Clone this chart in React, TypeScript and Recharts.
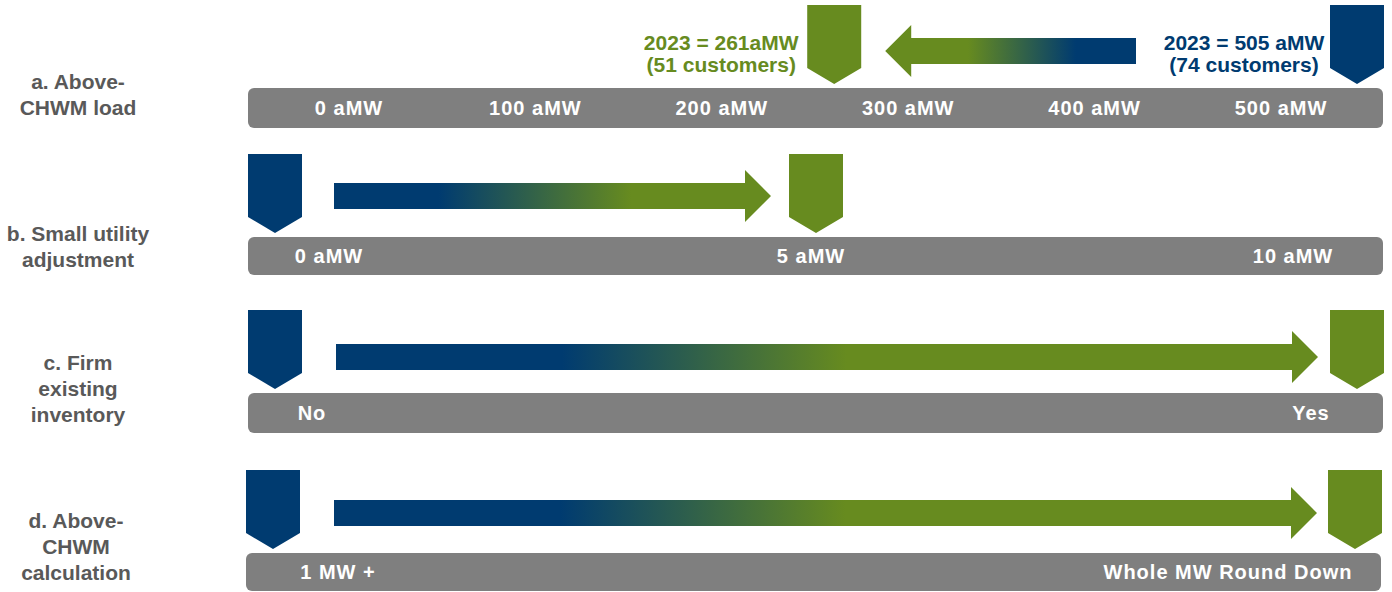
import { ComposedChart, XAxis, YAxis, Scatter, ReferenceArea } from "recharts"

const rowTitles = [
  "a. Above-\nCHWM load",
  "b. Small utility\nadjustment",
  "c. Firm\nexisting\ninventory",
  "d. Above-\nCHWM\ncalculation",
]
const fromValues = [505, 0, 0, 0]
const toValues = [261, 5, 1, 1]
const tickValues = [[0, 100, 200, 300, 400, 500], [0, 5, 10], [0, 1], [0, 1]]
const tickLabels = [
  ["0 aMW", "100 aMW", "200 aMW", "300 aMW", "400 aMW", "500 aMW"],
  ["0 aMW", "5 aMW", "10 aMW"],
  ["No", "Yes"],
  ["1 MW +", "Whole MW Round Down"],
]
const fromNotes = [["2023 = 505 aMW", "(74 customers)"], [], [], []]
const toNotes = [["2023 = 261aMW", "(51 customers)"], [], [], []]

const BLUE = "#003b70"
const GREEN = "#678b1f"
const GRAY = "#7f7f7f"
const TITLE = "#595959"
const FONT = "'Liberation Sans', Arial, sans-serif"

// per-row layout (pixels)
const layout = [
  { top: 0, left: 0, height: 140, mTop: 88, mBottom: 12, titleDrop: 13, lblPad: { left: 101, right: 102 }, fromGap: 221, toGap: 51, lift: 37, stops: [0.24, 0.67] },
  { top: 140, left: 0, height: 150, mTop: 97, mBottom: 15, titleDrop: 8, lblPad: { left: 81, right: 90 }, fromGap: 59, toGap: 45, lift: 41, stops: [0.24, 0.68] },
  { top: 290, left: 0, height: 155, mTop: 103, mBottom: 12, titleDrop: 11, lblPad: { left: 64, right: 72 }, fromGap: 61, toGap: 39, lift: 36, stops: [0.23, 0.52] },
  { top: 445, left: -2, height: 147, mTop: 108, mBottom: 1, titleDrop: 11, lblPad: { left: 92, right: 153 }, fromGap: 61, toGap: 38, lift: 40, stops: [0.23, 0.52] },
]

const MW = 27 // half marker width

function markerShape(color: string, barTop: number) {
  return (props: any) => {
    const { cx, payload } = props
    const top = barTop - 4 - 79
    const l = cx - MW
    const r = cx + MW
    return (
      <g>
        <polygon points={`${l},${top} ${r},${top} ${r},${top + 63} ${cx},${top + 79} ${l},${top + 63}`} fill={color} />
        {(payload.note || []).map((t: string, i: number) => (
          <text key={i} x={cx - 113} y={barTop - 38 + i * 22} textAnchor="middle" fill={color}
            fontSize={21} fontWeight="bold" fontFamily={FONT}>{t}</text>
        ))}
      </g>
    )
  }
}

function Row({ i }: { i: number }) {
  const L = layout[i]
  const barH = L.height - L.mTop - L.mBottom
  const from = fromValues[i]
  const to = toValues[i]
  const ticks = tickValues[i]
  const vMax = Math.max(ticks[ticks.length - 1], from, to)
  const title = rowTitles[i]
  const fromData = [{ row: title, value: from, note: fromNotes[i] }]
  const toData = [{ row: title, value: to, note: toNotes[i] }]
  const dir = to > from ? 1 : -1
  const gid = `arrowGrad${i}`

  const arrow = (p: any) => {
    const { x, width } = p
    const xFrom = dir > 0 ? x : x + width
    const xTo = dir > 0 ? x + width : x
    const s = xFrom + dir * L.fromGap
    const tip = xTo - dir * L.toGap
    const base = tip - dir * 26
    const cy = L.mTop - L.lift
    return (
      <g>
        <defs>
          <linearGradient id={gid} x1={dir > 0 ? 0 : 1} x2={dir > 0 ? 1 : 0} y1={0} y2={0}>
            <stop offset={0} stopColor={BLUE} />
            <stop offset={L.stops[0]} stopColor={BLUE} />
            <stop offset={L.stops[1]} stopColor={GREEN} />
            <stop offset={1} stopColor={GREEN} />
          </linearGradient>
        </defs>
        <polygon
          points={`${s},${cy - 13} ${base},${cy - 13} ${base},${cy - 26} ${tip},${cy} ${base},${cy + 26} ${base},${cy + 13} ${s},${cy + 13}`}
          fill={`url(#${gid})`}
        />
      </g>
    )
  }

  const renderTick = (p: any) => {
    const idx = ticks.indexOf(p.payload.value)
    return (
      <text x={p.x} y={L.mTop + barH / 2 + 7} textAnchor="middle" fill="#ffffff" fontSize={20}
        fontWeight="bold" letterSpacing={1} fontFamily={FONT}>{tickLabels[i][idx]}</text>
    )
  }

  const renderTitle = (p: any) => {
    const lines = String(p.payload.value).split("\n")
    const last = L.height - L.mBottom - L.titleDrop
    return (
      <g>
        {lines.map((t, k) => (
          <text key={k} x={78} y={last - (lines.length - 1 - k) * 26} textAnchor="middle" fill={TITLE}
            fontSize={21} fontWeight="bold" fontFamily={FONT}>{t}</text>
        ))}
      </g>
    )
  }

  return (
    <div style={{ position: "absolute", top: L.top, left: L.left }}>
      <ComposedChart width={1392} height={L.height} data={[...fromData, ...toData]}
        margin={{ top: L.mTop, right: 9, bottom: L.mBottom, left: 0 }}>
        <XAxis xAxisId="bar" type="number" dataKey="value" domain={[0, 1]} allowDataOverflow hide />
        <XAxis xAxisId="v" type="number" dataKey="value" domain={[0, vMax]} padding={{ left: MW, right: MW - 1 }} hide />
        <XAxis xAxisId="t" type="number" dataKey="value" domain={[ticks[0], ticks[ticks.length - 1]]} allowDataOverflow
          ticks={ticks} interval={0} padding={L.lblPad} axisLine={false} tickLine={false} mirror tick={renderTick} />
        <YAxis type="category" dataKey="row" width={248} axisLine={false} tickLine={false} tick={renderTitle} />
        <ReferenceArea xAxisId="bar" x1={0} x2={1} ifOverflow="visible"
          shape={(p: any) => <rect x={p.x} y={p.y} width={p.width} height={p.height} rx={6} fill={GRAY} />} />
        <ReferenceArea xAxisId="v" x1={Math.min(from, to)} x2={Math.max(from, to)} ifOverflow="visible" shape={arrow} />
        <Scatter xAxisId="v" data={fromData} dataKey="row" shape={markerShape(BLUE, L.mTop)} isAnimationActive={false} />
        <Scatter xAxisId="v" data={toData} dataKey="row" shape={markerShape(GREEN, L.mTop)} isAnimationActive={false} />
      </ComposedChart>
    </div>
  )
}

export default function App() {
  return (
    <div style={{ position: "absolute", left: 0, top: 0, width: 1392, height: 592, background: "#fff", overflow: "hidden" }}>
      {rowTitles.map((_, i) => <Row key={i} i={i} />)}
    </div>
  )
}
